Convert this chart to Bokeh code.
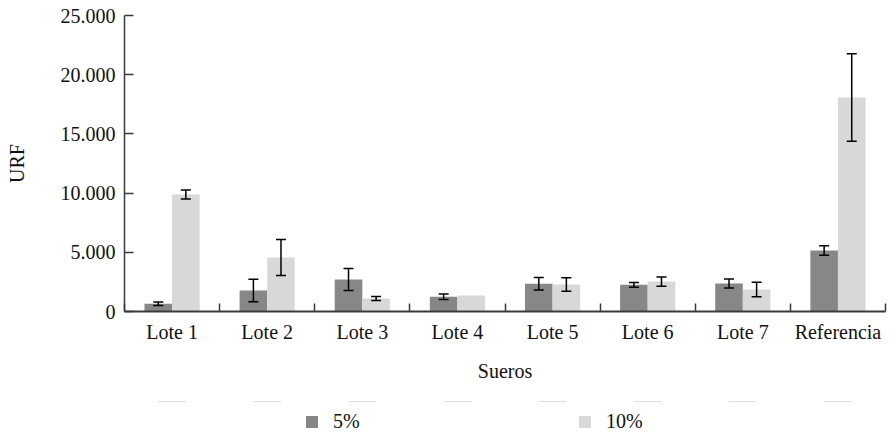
from bokeh.plotting import figure
from bokeh.layouts import column
from bokeh.models import (ColumnDataSource, Range1d, FixedTicker, Whisker, TeeHead,
                          Legend, LegendItem)
from bokeh.transform import dodge
from bokeh.embed import file_html
from bokeh.resources import INLINE

categories = ["Lote 1", "Lote 2", "Lote 3", "Lote 4", "Lote 5", "Lote 6", "Lote 7", "Referencia"]
series_names = ["5%", "10%"]
mean_5 = [650, 1770, 2700, 1240, 2340, 2250, 2360, 5150]
err_5 = [150, 950, 930, 230, 530, 200, 380, 400]
mean_10 = [9880, 4560, 1100, 1350, 2280, 2530, 1860, 18070]
err_10 = [380, 1530, 170, 0, 560, 390, 620, 3700]
y_ticks = [0, 5000, 10000, 15000, 20000, 25000]
y_tick_labels = ["0", "5.000", "10.000", "15.000", "20.000", "25.000"]

FONT = "Liberation Serif"
FS = "20px"
TXT = "#111111"
DARK = "#878787"
LIGHT = "#d7d8da"
AXIS = "#3a3a3a"
BW = 0.29

centers = [i + 0.5 for i in range(len(categories))]
src = ColumnDataSource(dict(x=centers, m5=mean_5, m10=mean_10))

def whisker_source(means, errs):
    xs, lo, hi = [], [], []
    for c, m, e in zip(centers, means, errs):
        if e > 0:
            xs.append(c); lo.append(m - e); hi.append(m + e)
    return ColumnDataSource(dict(x=xs, lo=lo, hi=hi))

p = figure(width=889, height=401, output_backend="svg", toolbar_location=None,
           x_range=Range1d(0, len(categories)), y_range=Range1d(0, 25000),
           min_border_left=124, min_border_right=4, min_border_top=15, min_border_bottom=90)
p.grid.visible = False
p.outline_line_color = None
p.background_fill_color = "white"
p.border_fill_color = "white"

r5 = p.vbar(x=dodge("x", -BW / 2), top="m5", width=BW, source=src, fill_color=DARK, line_color=None)
r10 = p.vbar(x=dodge("x", BW / 2), top="m10", width=BW, source=src, fill_color=LIGHT, line_color=None)

for means, errs, off in [(mean_5, err_5, -BW / 2), (mean_10, err_10, BW / 2)]:
    ws = whisker_source(means, errs)
    w = Whisker(base=dodge("x", off), lower="lo", upper="hi", source=ws, level="overlay",
                line_color="black", line_width=1.5,
                upper_head=TeeHead(size=10, line_color="black", line_width=1.5),
                lower_head=TeeHead(size=10, line_color="black", line_width=1.5))
    p.add_layout(w)

# x axis
xa = p.xaxis[0]
xa.ticker = FixedTicker(ticks=centers, minor_ticks=list(range(len(categories) + 1)))
xa.major_label_overrides = {c: name for c, name in zip(centers, categories)}
xa.major_tick_line_color = None
xa.minor_tick_in = 8
xa.minor_tick_out = 0
xa.minor_tick_line_color = AXIS
xa.minor_tick_line_width = 1.5
xa.axis_line_color = AXIS
xa.axis_line_width = 2
xa.major_label_text_font = FONT
xa.major_label_text_font_size = FS
xa.major_label_text_color = TXT
xa.major_label_standoff = 3
xa.axis_label = "Sueros"
xa.axis_label_text_font = FONT
xa.axis_label_text_font_size = FS
xa.axis_label_text_font_style = "normal"
xa.axis_label_text_color = TXT
xa.axis_label_standoff = 14

# y axis
ya = p.yaxis[0]
ya.ticker = FixedTicker(ticks=y_ticks, minor_ticks=[])
ya.major_label_overrides = {t: l for t, l in zip(y_ticks, y_tick_labels)}
ya.major_tick_in = 9
ya.major_tick_out = 0
ya.major_tick_line_color = AXIS
ya.major_tick_line_width = 1.5
ya.axis_line_color = AXIS
ya.axis_line_width = 1.5
ya.major_label_text_font = FONT
ya.major_label_text_font_size = FS
ya.major_label_text_color = TXT
ya.major_label_standoff = 9
ya.axis_label = "URF"
ya.axis_label_text_font = FONT
ya.axis_label_text_font_size = FS
ya.axis_label_text_font_style = "normal"
ya.axis_label_text_color = TXT
ya.axis_label_standoff = 30

# legend strip below the chart (frames are aligned with the main chart);
# its bars lie outside its y range, so only the legend is seen
lf = figure(width=889, height=32, output_backend="svg", toolbar_location=None,
            x_axis_type=None, y_axis_type=None,
            x_range=Range1d(0, len(categories)), y_range=Range1d(-2, -1),
            min_border_left=0, min_border_right=0, min_border_top=0, min_border_bottom=0)
lf.grid.visible = False
lf.outline_line_color = None
lf.background_fill_color = "white"
lf.border_fill_color = "white"
lr5 = lf.vbar(x="x", top="m5", width=BW, source=src, fill_color=DARK, line_color=None)
lr10 = lf.vbar(x="x", top="m10", width=BW, source=src, fill_color=LIGHT, line_color=None)

legend = Legend(items=[LegendItem(label=series_names[0], renderers=[lr5]),
                       LegendItem(label=series_names[1], renderers=[lr10])],
                orientation="horizontal", location=(180, 0),
                glyph_width=15, glyph_height=15, label_standoff=14, label_width=30,
                spacing=214, padding=0, margin=0,
                label_text_font=FONT, label_text_font_size=FS,
                label_text_color=TXT, border_line_color=None,
                background_fill_alpha=0)
lf.add_layout(legend)

layout = column(p, lf, spacing=0)
open("out.html", "w").write(file_html(layout, INLINE))
